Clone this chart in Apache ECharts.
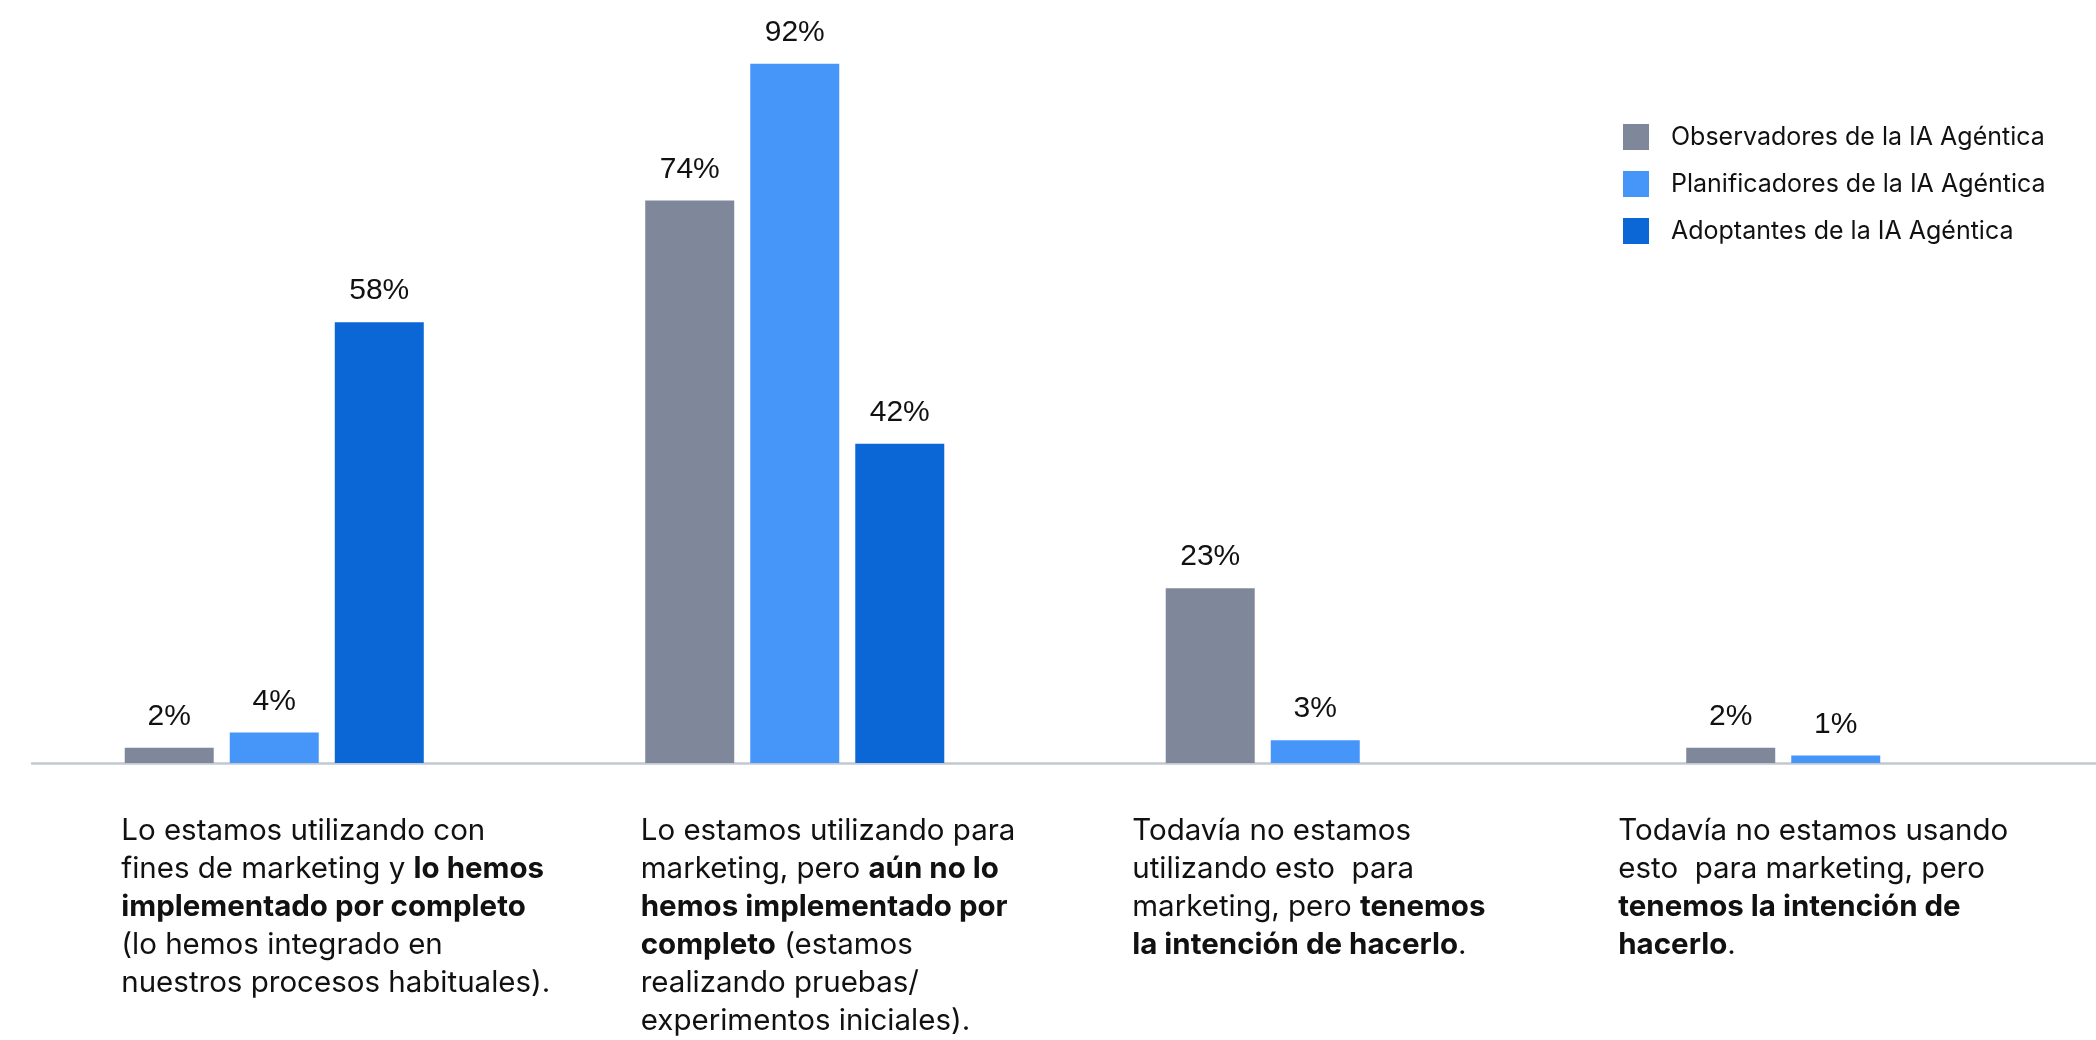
<!DOCTYPE html>
<html>
<head>
<meta charset="utf-8">
<script src="https://cdn.jsdelivr.net/npm/echarts@6/dist/echarts.min.js"></script>
<style>
  html, body { margin: 0; padding: 0; background: #ffffff; }
  #chart { width: 2096px; height: 1040px; }
</style>
</head>
<body>
<div id="chart"></div>
<script>
// Answer options; "**" toggles bold, "\n" breaks the line
const categories = [
  "Lo estamos utilizando con\nfines de marketing y **lo hemos**\n**implementado por completo**\n(lo hemos integrado en\nnuestros procesos habituales).",
  "Lo estamos utilizando para\nmarketing, pero **aún no lo**\n**hemos implementado por**\n**completo** (estamos\nrealizando pruebas/\nexperimentos iniciales).",
  "Todavía no estamos\nutilizando esto  para\nmarketing, pero **tenemos**\n**la intención de hacerlo**.",
  "Todavía no estamos usando\nesto  para marketing, pero\n**tenemos la intención de**\n**hacerlo**."
];

const seriesNames = [
  "Observadores de la IA Agéntica",
  "Planificadores de la IA Agéntica",
  "Adoptantes de la IA Agéntica"
];

// Share of respondents (%)
const observadores = [2, 74, 23, 2];
const planificadores = [4, 92, 3, 1];
const adoptantes = [58, 42, null, null];

const colors = ["#7f879a", "#4696fa", "#0a67d5"];

const FONT = "Inter, 'Noto Sans', sans-serif";
const LABEL_FONT = "'Liberation Sans', Arial, sans-serif";

// Width of each category caption box (centred on its tick, text flush left)
const captionBoxWidths = [306, 308, 366, 435];

// Turn the marked-up category text into rich-text tokens
function toRich(text) {
  let bold = false;
  return text.split("\n").map(function (line) {
    const parts = line.split("**");
    let out = "";
    parts.forEach(function (p, i) {
      if (i > 0) bold = !bold;
      if (p.length) out += "{" + (bold ? "b" : "r") + "|" + p + "}";
    });
    return out;
  }).join("\n");
}

const chart = echarts.init(document.getElementById("chart"), null, { renderer: "canvas" });

const barLabel = {
  show: true,
  position: "top",
  distance: 16,
  formatter: "{c}%",
  fontFamily: LABEL_FONT,
  fontSize: 30,
  color: "#111111"
};

const textLine = { fontFamily: FONT, fontSize: 29.5, lineHeight: 38, color: "#111111", align: "left" };

chart.setOption({
  animation: false,
  backgroundColor: "#ffffff",
  color: colors,
  legend: {
    orient: "vertical",
    left: 1618,
    top: 119,
    itemWidth: 26,
    itemHeight: 26,
    itemGap: 21,
    icon: "rect",
    textStyle: { fontFamily: FONT, fontSize: 25, color: "#111111", padding: [0, 0, 0, 17] },
    data: seriesNames
  },
  grid: [
    { left: 14, right: -2, top: 3, bottom: 277 },
    { left: 32, right: 0, top: 3, bottom: 277 }
  ],
  xAxis: [
    {
      type: "category",
      gridIndex: 0,
      data: categories.map(function (c, i) {
        return { value: c, textStyle: { width: captionBoxWidths[i] } };
      }),
      axisLine: { show: false },
      axisTick: { show: false },
      axisLabel: {
        interval: 0,
        margin: 49,
        width: 306,
        overflow: "none",
        align: "center",
        verticalAlign: "top",
        formatter: toRich,
        rich: {
          r: Object.assign({}, textLine),
          b: Object.assign({}, textLine, { fontWeight: "bold" })
        }
      }
    },
    {
      type: "category",
      gridIndex: 1,
      data: categories,
      axisLine: { show: true, lineStyle: { color: "#c2c7d1", width: 2.5 } },
      axisTick: { show: false },
      axisLabel: { show: false }
    }
  ],
  yAxis: [
    { type: "value", gridIndex: 0, min: 0, max: 100, show: false, splitLine: { show: false } },
    { type: "value", gridIndex: 1, min: 0, max: 100, show: false, splitLine: { show: false } }
  ],
  series: [
    { name: seriesNames[0], type: "bar", data: observadores, barWidth: 89, barGap: "18%", label: barLabel, z: 3 },
    { name: seriesNames[1], type: "bar", data: planificadores, barWidth: 89, barGap: "18%", label: barLabel, z: 3 },
    { name: seriesNames[2], type: "bar", data: adoptantes, barWidth: 89, barGap: "18%", label: barLabel, z: 3 }
  ]
});
</script>
</body>
</html>
